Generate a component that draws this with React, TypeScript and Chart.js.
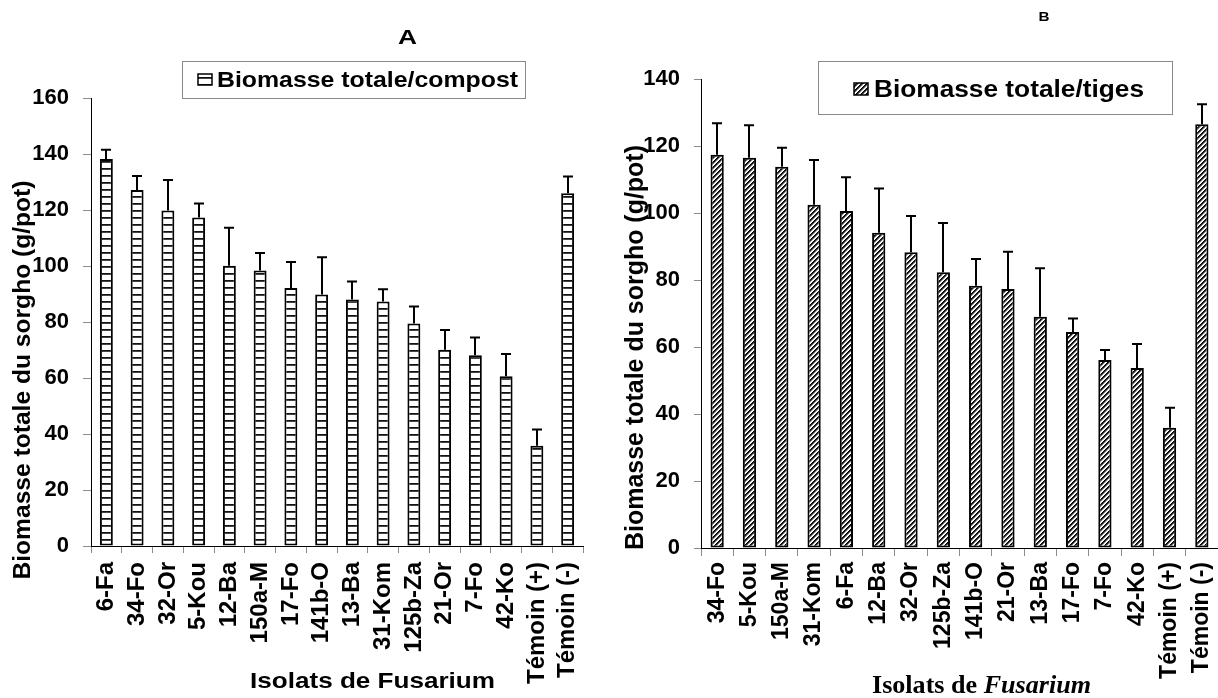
import React, { useEffect, useRef } from 'react';
import { Chart, registerables } from 'chart.js';

Chart.register(...registerables);

// ---------- DATA ----------
const leftCategories = ['6-Fa', '34-Fo', '32-Or', '5-Kou', '12-Ba', '150a-M', '17-Fo', '141b-O', '13-Ba', '31-Kom', '125b-Za', '21-Or', '7-Fo', '42-Ko', 'Témoin (+)', 'Témoin (-)'];
const leftValues = [138.2, 127.1, 119.8, 117.3, 100.1, 98.4, 92.1, 89.8, 88.0, 87.3, 79.5, 70.1, 68.1, 60.6, 35.8, 126.0];
const leftErrors = [3.3, 5.0, 10.9, 5.0, 13.6, 6.2, 9.3, 13.3, 6.5, 4.4, 6.0, 7.0, 6.4, 8.0, 5.8, 6.0];
const leftYTicks = { min: 0, max: 160, step: 20 };

const rightCategories = ['34-Fo', '5-Kou', '150a-M', '31-Kom', '6-Fa', '12-Ba', '32-Or', '125b-Za', '141b-O', '21-Or', '13-Ba', '17-Fo', '7-Fo', '42-Ko', 'Témoin (+)', 'Témoin (-)'];
const rightValues = [117.4, 116.5, 113.8, 102.5, 100.6, 94.1, 88.3, 82.3, 78.3, 77.3, 69.0, 64.5, 56.1, 53.7, 35.9, 126.5];
const rightErrors = [9.4, 9.7, 5.7, 13.3, 10.1, 13.2, 10.8, 14.7, 8.0, 11.1, 14.5, 4.0, 3.0, 7.2, 6.0, 6.0];
const rightYTicks = { min: 0, max: 140, step: 20 };

const leftTitle = 'A';
const rightTitle = 'B';
const leftLegend = 'Biomasse totale/compost';
const rightLegend = 'Biomasse totale/tiges';
const yTitle = 'Biomasse totale du sorgho (g/pot)';
const xTitleLeft = 'Isolats de Fusarium';
const xTitleRightPlain = 'Isolats de ';
const xTitleRightItalic = 'Fusarium';

const SANS = '"Liberation Sans", Arial, sans-serif';
const SERIF = '"Liberation Serif", "Times New Roman", serif';

// ---------- HELPERS ----------
function makeStripePattern(): CanvasPattern | string {
  const c = document.createElement('canvas');
  c.width = 4; c.height = 7;
  const g = c.getContext('2d');
  if (!g) return '#fff';
  g.fillStyle = '#fff';
  g.fillRect(0, 0, 4, 7);
  g.fillStyle = '#111';
  g.fillRect(0, 0, 4, 1);
  g.fillStyle = '#444';
  g.fillRect(0, 1, 4, 1);
  return g.createPattern(c, 'repeat') || '#fff';
}

function makeHatchPattern(): CanvasPattern | string {
  const n = 5;
  const c = document.createElement('canvas');
  c.width = n; c.height = n;
  const g = c.getContext('2d');
  if (!g) return '#888';
  for (let x = 0; x < n; x++) {
    for (let y = 0; y < n; y++) {
      const k = (x + y) % n;
      g.fillStyle = k === 0 ? '#000' : k === 1 ? '#222' : k === 2 ? '#777' : k === 3 ? '#eee' : '#fff';
      g.fillRect(x, y, 1, 1);
    }
  }
  return g.createPattern(c, 'repeat') || '#888';
}

type Part = { text: string; font: string };

function fitText(ctx: CanvasRenderingContext2D, parts: Part[], x: number, y: number, width: number, angle: number, align: 'left' | 'center') {
  ctx.save();
  ctx.translate(x, y);
  if (angle) ctx.rotate(angle);
  let natural = 0;
  const widths: number[] = [];
  for (const p of parts) {
    ctx.font = p.font;
    const w = ctx.measureText(p.text).width;
    widths.push(w);
    natural += w;
  }
  ctx.scale(width / natural, 1);
  ctx.fillStyle = '#000';
  ctx.textAlign = 'left';
  ctx.textBaseline = 'alphabetic';
  let cx = align === 'center' ? -natural / 2 : 0;
  parts.forEach((p, i) => {
    ctx.font = p.font;
    ctx.fillText(p.text, cx, 0);
    cx += widths[i];
  });
  ctx.restore();
}

function errorBarPlugin(errors: number[]) {
  return {
    id: 'errorBars',
    afterDatasetsDraw(chart: any) {
      const ctx: CanvasRenderingContext2D = chart.ctx;
      const meta = chart.getDatasetMeta(0);
      const yScale = chart.scales.y;
      const vals = chart.data.datasets[0].data as number[];
      ctx.save();
      ctx.strokeStyle = '#000';
      ctx.lineWidth = 2;
      meta.data.forEach((bar: any, i: number) => {
        const x = Math.round(bar.x);
        const top = yScale.getPixelForValue(vals[i] + errors[i]);
        const base = yScale.getPixelForValue(vals[i]);
        ctx.beginPath();
        ctx.moveTo(x, base);
        ctx.lineTo(x, top);
        ctx.moveTo(x - 5, top);
        ctx.lineTo(x + 5, top);
        ctx.stroke();
      });
      ctx.restore();
    },
  };
}

type LegendSpec = { box: [number, number, number, number]; swatch: [number, number, number, number]; textX: number; textY: number; textW: number; font: string; text: string; fill: CanvasPattern | string };

function drawLegend(ctx: CanvasRenderingContext2D, l: LegendSpec) {
  ctx.save();
  ctx.fillStyle = '#fff';
  ctx.fillRect(l.box[0], l.box[1], l.box[2], l.box[3]);
  ctx.strokeStyle = '#8a8a8a';
  ctx.lineWidth = 1;
  ctx.strokeRect(l.box[0] + 0.5, l.box[1] + 0.5, l.box[2], l.box[3]);
  ctx.fillStyle = l.fill;
  ctx.fillRect(l.swatch[0], l.swatch[1], l.swatch[2], l.swatch[3]);
  ctx.strokeStyle = '#000';
  ctx.lineWidth = 1.5;
  ctx.strokeRect(l.swatch[0], l.swatch[1], l.swatch[2], l.swatch[3]);
  ctx.restore();
  fitText(ctx, [{ text: l.text, font: l.font }], l.textX, l.textY, l.textW, 0, 'left');
}

function buildConfig(p: {
  labels: string[]; values: number[]; errors: number[]; yT: { min: number; max: number; step: number };
  fill: CanvasPattern | string; barPct: number; top: number; right: number; yWidth: number; xHeight: number;
  xFont: number; yFont: number; xPad: number; yPad: number; yTick: number; xTick: number; draw: (ctx: CanvasRenderingContext2D) => void;
}) {
  return {
    type: 'bar' as const,
    data: {
      labels: p.labels,
      datasets: [{
        data: p.values,
        backgroundColor: p.fill,
        borderColor: '#000',
        borderWidth: 2,
        borderSkipped: false,
        barPercentage: p.barPct,
        categoryPercentage: 1,
      }],
    },
    options: {
      responsive: false,
      animation: false as const,
      devicePixelRatio: 1,
      layout: { padding: { left: 0, top: p.top, right: p.right, bottom: 0 } },
      plugins: { legend: { display: false }, tooltip: { enabled: false }, title: { display: false } },
      scales: {
        x: {
          offset: true,
          grid: { display: true, drawOnChartArea: false, drawTicks: true, tickLength: p.xTick, tickColor: '#8a8a8a', offset: true },
          border: { display: true, color: '#000', width: 1 },
          ticks: { autoSkip: false, maxRotation: 90, minRotation: 90, padding: p.xPad, color: '#000', font: { family: SANS, size: p.xFont, weight: 'bold' } },
          afterFit: (s: any) => { s.height = p.xHeight; s.paddingLeft = 0; s.paddingRight = 0; },
        },
        y: {
          min: p.yT.min,
          max: p.yT.max,
          grid: { display: true, drawOnChartArea: false, drawTicks: true, tickLength: p.yTick, tickColor: '#8a8a8a' },
          border: { display: true, color: '#000', width: 1 },
          ticks: { stepSize: p.yT.step, padding: p.yPad, color: '#000', font: { family: SANS, size: p.yFont, weight: 'bold' } },
          afterFit: (s: any) => { s.width = p.yWidth; },
        },
      },
    },
    plugins: [
      errorBarPlugin(p.errors),
      { id: 'texts', afterDraw(chart: any) { p.draw(chart.ctx); } },
    ],
  };
}

export default function App() {
  const leftRef = useRef<HTMLCanvasElement>(null);
  const rightRef = useRef<HTMLCanvasElement>(null);

  useEffect(() => {
    const stripes = makeStripePattern();
    const hatch = makeHatchPattern();

    const leftCfg = buildConfig({
      labels: leftCategories, values: leftValues, errors: leftErrors, yT: leftYTicks, fill: stripes, barPct: 0.42,
      top: 98, right: 26, yWidth: 91, xHeight: 152, xFont: 24, yFont: 22, xPad: 9, yPad: 14, yTick: 8, xTick: 7,
      draw: (ctx) => {
        fitText(ctx, [{ text: leftTitle, font: `bold 21px ${SANS}` }], 407.5, 44, 19, 0, 'center');
        drawLegend(ctx, { box: [182, 61, 343, 37], swatch: [198, 74, 14, 11], textX: 217, textY: 87, textW: 301, font: `bold 22px ${SANS}`, text: leftLegend, fill: stripes });
        fitText(ctx, [{ text: yTitle, font: `bold 24px ${SANS}` }], 30, 380, 399, -Math.PI / 2, 'center');
        fitText(ctx, [{ text: xTitleLeft, font: `bold 22px ${SANS}` }], 250, 688, 245, 0, 'left');
      },
    });

    const rightCfg = buildConfig({
      labels: rightCategories, values: rightValues, errors: rightErrors, yT: rightYTicks, fill: hatch, barPct: 0.41,
      top: 79, right: 0, yWidth: 92, xHeight: 150, xFont: 23, yFont: 22, xPad: 6, yPad: 14, yTick: 7, xTick: 8,
      draw: (ctx) => {
        fitText(ctx, [{ text: rightTitle, font: `bold 13px ${SANS}` }], 1044 - 609, 21, 11, 0, 'center');
        drawLegend(ctx, { box: [818 - 609, 61, 354, 53], swatch: [854 - 609, 83, 14, 12], textX: 874 - 609, textY: 97, textW: 270, font: `bold 23px ${SANS}`, text: rightLegend, fill: hatch });
        fitText(ctx, [{ text: yTitle, font: `bold 26px ${SANS}` }], 643 - 609, 347.5, 405, -Math.PI / 2, 'center');
        fitText(ctx, [
          { text: xTitleRightPlain, font: `bold 25px ${SERIF}` },
          { text: xTitleRightItalic, font: `italic bold 25px ${SERIF}` },
        ], 872 - 609, 693, 219, 0, 'left');
      },
    });

    const c1 = new Chart(leftRef.current as HTMLCanvasElement, leftCfg as any);
    const c2 = new Chart(rightRef.current as HTMLCanvasElement, rightCfg as any);
    return () => { c1.destroy(); c2.destroy(); };
  }, []);

  return (
    <div style={{ position: 'absolute', left: 0, top: 0, width: 1218, height: 698, background: '#fff', overflow: 'hidden' }}>
      <canvas ref={leftRef} width={609} height={698} style={{ position: 'absolute', left: 0, top: 0, width: 609, height: 698 }} />
      <canvas ref={rightRef} width={609} height={698} style={{ position: 'absolute', left: 609, top: 0, width: 609, height: 698 }} />
    </div>
  );
}
